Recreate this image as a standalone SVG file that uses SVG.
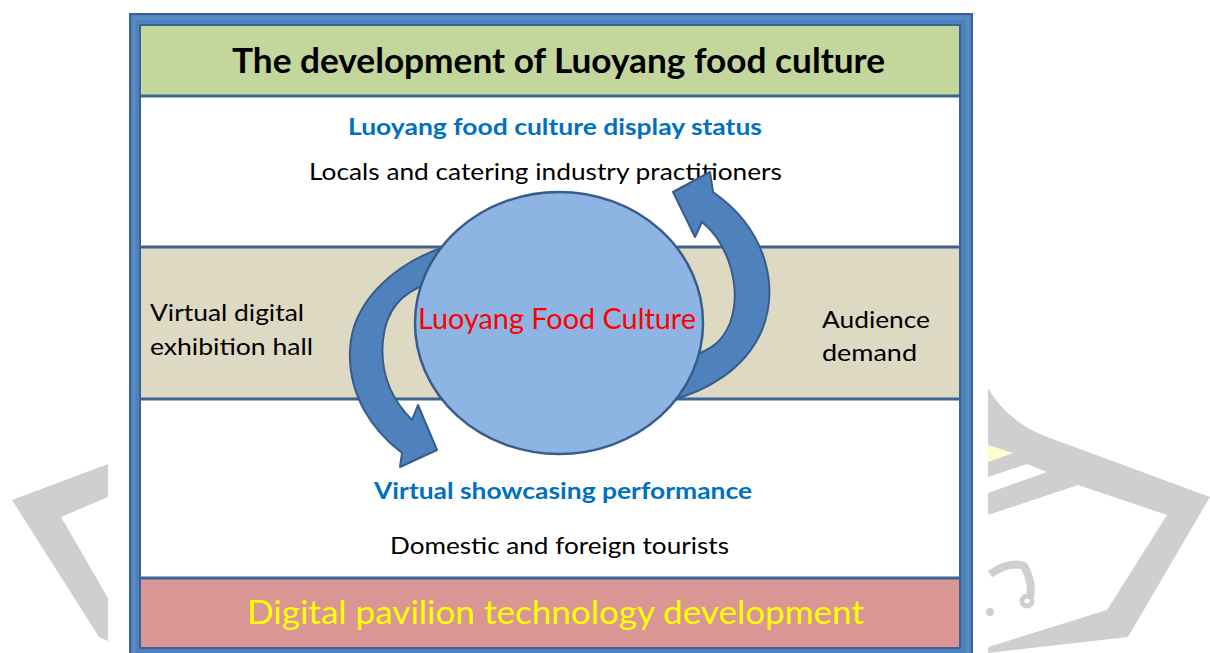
<svg xmlns="http://www.w3.org/2000/svg" width="1210" height="653" viewBox="0 0 1210 653">
  <style>
    .txt { font-family: Lato, "Open Sans", "Liberation Sans", sans-serif; }
    .bold { font-weight: 700; }
    .band-line { stroke: #3d6491; stroke-width: 3; }
    .arrow { fill: #4f81bd; stroke: #385d8a; stroke-width: 2; stroke-linejoin: round; }
    .mark { fill: #cfcfcf; }
  </style>

  <rect width="1210" height="653" fill="#ffffff"/>

  <!-- faint background emblem -->
  <g id="emblem">
    <polygon class="mark" points="108,464 12,500 99,637 108,641 108,598 61,517 108,497"/>
    <path class="mark" d="M988,388 Q1008,423 1050,438 L1210,497 L1128,637 L988,653 L988,647 L1107,610 L1167,515 L1078,485 L988,515 Z"/>
    <polygon points="988,445 1013,453 988,462" fill="#ffffcc"/>
    <polygon points="988,477 1027,464 1047,472 988,493" fill="#ffffff"/>
    <path d="M990,574 Q1010,561 1024,566 Q1033,582 1030,597" fill="none" stroke="#cfcfcf" stroke-width="8"/>
    <circle cx="1027" cy="601" r="5" fill="none" stroke="#cfcfcf" stroke-width="5"/>
    <circle cx="990" cy="612" r="4" class="mark"/>
  </g>

  <!-- outer frame -->
  <g id="frame">
    <rect x="130" y="14" width="842" height="650" fill="#4f81bd" stroke="#3b6294" stroke-width="2"/>
    <rect x="134" y="18" width="834" height="640" fill="none" stroke="#5a8bc6" stroke-width="3"/>
    <rect x="140" y="25" width="820" height="623" fill="#ffffff" stroke="#3b6294" stroke-width="2"/>
  </g>

  <!-- horizontal bands -->
  <g id="bands">
    <rect x="140" y="25" width="820" height="71" fill="#c3d69b"/>
    <rect x="140" y="247" width="820" height="152" fill="#ddd9c3"/>
    <rect x="140" y="578" width="820" height="70" fill="#d99694"/>
    <line class="band-line" x1="140" y1="96" x2="960" y2="96"/>
    <line class="band-line" x1="140" y1="247" x2="960" y2="247"/>
    <line class="band-line" x1="140" y1="399" x2="960" y2="399"/>
    <line class="band-line" x1="140" y1="578" x2="960" y2="578"/>
    <rect x="140" y="25" width="820" height="623" fill="none" stroke="#3b6294" stroke-width="2"/>
  </g>

  <g id="title">
    <text class="txt bold" x="232" y="73" font-size="35" fill="#000000" textLength="653" lengthAdjust="spacingAndGlyphs">The development of Luoyang food culture</text>
  </g>

  <g id="display-status">
    <text class="txt bold" x="348" y="135" font-size="23" fill="#0070c0" textLength="414" lengthAdjust="spacingAndGlyphs">Luoyang food culture display status</text>
    <text class="txt" x="309" y="180" font-size="23" fill="#000000" textLength="473" lengthAdjust="spacingAndGlyphs">Locals and catering industry practitioners</text>
  </g>

  <g id="exhibition-hall">
    <text class="txt" x="150" y="321" font-size="23" fill="#000000" textLength="154" lengthAdjust="spacingAndGlyphs">Virtual digital</text>
    <text class="txt" x="150" y="355" font-size="23" fill="#000000" textLength="163" lengthAdjust="spacingAndGlyphs">exhibition hall</text>
  </g>

  <g id="audience-demand">
    <text class="txt" x="822" y="328" font-size="23" fill="#000000" textLength="108" lengthAdjust="spacingAndGlyphs">Audience</text>
    <text class="txt" x="822" y="361" font-size="23" fill="#000000" textLength="95" lengthAdjust="spacingAndGlyphs">demand</text>
  </g>

  <!-- cycle arrows around the centre -->
  <g id="connectors">
    <path class="arrow" d="M447,246 C397,262 352,300 350,350 C348,395 372,430 402,453 L400,467 L437,450 L418,405 L412,420 C390,398 380,370 383,340 C386,310 402,292 428,284 Z"/>
    <path class="arrow" d="M668,401 C705,392 745,370 762,330 C778,290 770,232 713,192 L710,172 L673,192 L695,237 L702,222 C730,245 742,290 730,323 C722,343 710,350 690,357 Z"/>
  </g>

  <g id="food-culture">
    <ellipse cx="559" cy="323" rx="144" ry="131" fill="#8eb4e3" stroke="#385d8a" stroke-width="2.5"/>
    <text class="txt" x="418" y="329" font-size="29" fill="#ff0000" textLength="278" lengthAdjust="spacingAndGlyphs">Luoyang Food Culture</text>
  </g>

  <g id="showcasing">
    <text class="txt bold" x="374" y="499" font-size="23" fill="#0070c0" textLength="378" lengthAdjust="spacingAndGlyphs">Virtual showcasing performance</text>
    <text class="txt" x="390" y="554" font-size="23" fill="#000000" textLength="339" lengthAdjust="spacingAndGlyphs">Domestic and foreign tourists</text>
  </g>

  <g id="technology">
    <text class="txt" x="247" y="624" font-size="33" fill="#ffff00" textLength="617" lengthAdjust="spacingAndGlyphs">Digital pavilion technology development</text>
  </g>
</svg>
